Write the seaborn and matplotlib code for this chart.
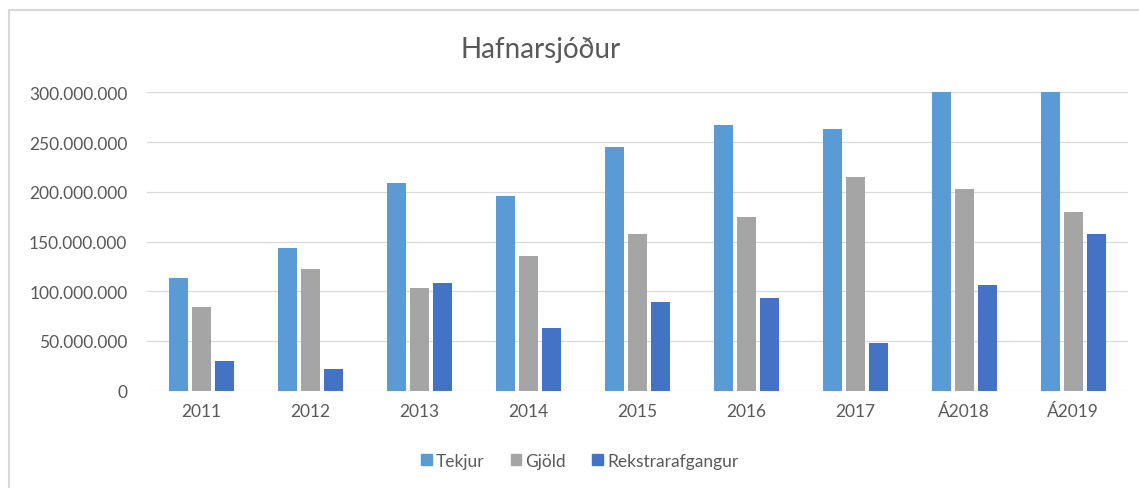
import pandas as pd
import seaborn as sns
import matplotlib.pyplot as plt
from matplotlib.ticker import FuncFormatter, MultipleLocator
from matplotlib.patches import Rectangle

# ---------------------------
# Data
# ---------------------------
years = ["2011", "2012", "2013", "2014", "2015", "2016", "2017", "Á2018", "Á2019"]
tekjur = [113.6, 143.2, 208.8, 196.1, 245.4, 267.5, 263.5, 320.0, 325.0]
gjold = [84.5, 122.4, 102.9, 135.1, 157.9, 174.3, 215.2, 202.5, 179.7]
rekstrarafgangur = [30.2, 21.8, 108.3, 62.7, 88.8, 93.2, 47.6, 105.9, 157.9]
series_names = ["Tekjur", "Gjöld", "Rekstrarafgangur"]
colors = ["#5B9BD5", "#A5A5A5", "#4472C4"]

rows = []
for name, vals in zip(series_names, [tekjur, gjold, rekstrarafgangur]):
    for y, v in zip(years, vals):
        rows.append({"Ár": y, "Flokkur": name, "Upphæð": v * 1_000_000})
df = pd.DataFrame(rows)

sns.set_style("white")
plt.rcParams["font.family"] = ["Lato", "DejaVu Sans"]

fig = plt.figure(figsize=(11.39, 4.89), dpi=100)
ax = fig.add_axes([0.129, 0.199, 0.861, 0.610])

sns.barplot(data=df, x="Ár", y="Upphæð", hue="Flokkur", order=years,
            hue_order=series_names, palette=colors, saturation=1,
            width=0.63, gap=0.17, linewidth=0, errorbar=None, ax=ax)

ax.set_ylim(0, 300_000_000)
ax.yaxis.set_major_locator(MultipleLocator(50_000_000))
ax.yaxis.set_major_formatter(FuncFormatter(lambda x, p: f"{x:,.0f}".replace(",", ".")))
ax.grid(axis="y", color="#D9D9D9", linewidth=0.9)
ax.set_axisbelow(True)
for s in ax.spines.values():
    s.set_visible(False)
ax.tick_params(axis="both", length=0, labelsize=12.5, colors="#595959")
ax.tick_params(axis="y", pad=14)
ax.tick_params(axis="x", pad=9)
ax.set_xlabel("")
ax.set_ylabel("")

ax.get_legend().remove()
handles = [plt.Rectangle((0, 0), 1, 1, color=c) for c in colors]
fig.legend(handles, series_names, loc="center", bbox_to_anchor=(0.509, 0.055),
           ncol=3, frameon=False, fontsize=12.5, handlelength=0.6, handleheight=0.6,
           handletextpad=0.25, columnspacing=1.5, labelcolor="#595959")

fig.text(0.475, 0.897, "Hafnarsjóður", ha="center", va="center",
         fontsize=20, color="#595959")

# chart area border
fig.patches.append(Rectangle((9 / 1139, -0.1), 1.2, (489 - 11) / 489 + 0.1,
                             transform=fig.transFigure, fill=False,
                             edgecolor="#D9D9D9", linewidth=1.5))

fig.savefig("out.png", dpi=100)
